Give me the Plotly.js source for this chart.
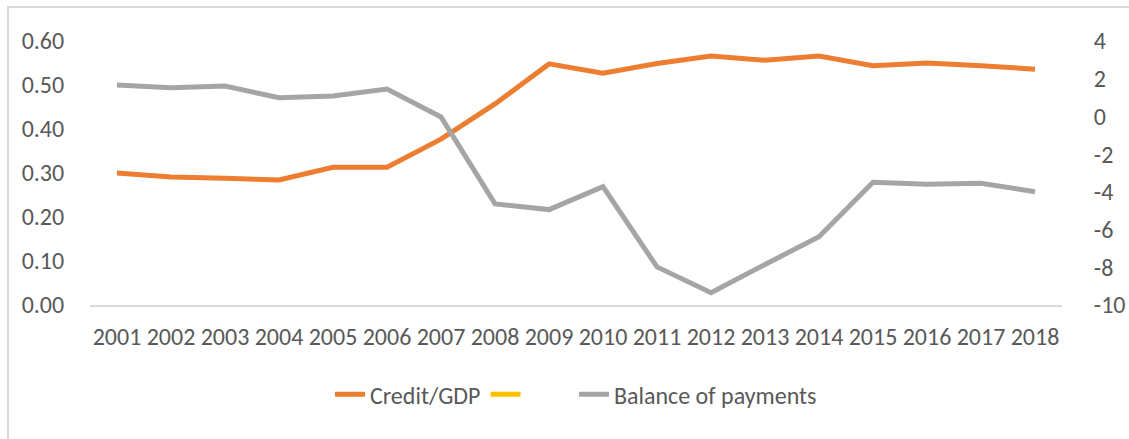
<!DOCTYPE html>
<html>
<head>
<meta charset="utf-8">
<script src="https://cdn.plot.ly/plotly-3.0.1.min.js"></script>
<style>
  html, body { margin: 0; padding: 0; background: #fff; }
  #wrap { position: relative; width: 1129px; height: 439px; overflow: hidden; }
  #frame { position: absolute; left: 7px; top: 6px; width: 1140px; height: 460px;
           border-left: 2px solid #d9d9d9; border-top: 2px solid #d9d9d9; box-sizing: border-box; }
  #chart { position: absolute; left: 0; top: 0; width: 1129px; height: 439px; }
</style>
</head>
<body>
<div id="wrap">
  <div id="frame"></div>
  <div id="chart"></div>
</div>
<script>
const years = ['2001','2002','2003','2004','2005','2006','2007','2008','2009','2010','2011','2012','2013','2014','2015','2016','2017','2018'];
const creditGDP = [0.300,0.291,0.288,0.284,0.313,0.313,0.377,0.457,0.548,0.527,0.549,0.566,0.556,0.566,0.544,0.550,0.544,0.536];
const balanceOfPayments = [1.67,1.52,1.61,0.99,1.08,1.45,-0.03,-4.64,-4.94,-3.72,-7.98,-9.35,-7.85,-6.38,-3.49,-3.60,-3.55,-3.99];
const emptySeries = years.map(() => null);
const leftTicks = [0,0.1,0.2,0.3,0.4,0.5,0.6];
const rightTicks = [-10,-8,-6,-4,-2,0,2,4];

const FONT = "Carlito, Calibri, 'Open Sans', sans-serif";
const TXT = '#595959';
const FS = 24;
const CLEAR = 'rgba(0,0,0,0)';
const BLANK_NAME = '\u00a0'.repeat(8);

const traces = [
  { x: years, y: creditGDP, name: 'Credit/GDP', type: 'scatter', mode: 'lines',
    line: { color: '#ED7D31', width: 5 }, yaxis: 'y' },
  { x: years, y: emptySeries, name: BLANK_NAME, type: 'scatter', mode: 'lines',
    line: { color: '#FFC000', width: 5 }, yaxis: 'y' },
  { x: years, y: balanceOfPayments, name: 'Balance of payments', type: 'scatter', mode: 'lines',
    line: { color: '#A5A5A5', width: 5 }, yaxis: 'y2' }
];

const layout = {
  width: 1129, height: 439,
  margin: { l: 90, r: 67, t: 41, b: 134 },
  paper_bgcolor: CLEAR, plot_bgcolor: CLEAR,
  font: { family: FONT, size: FS, color: TXT },
  showlegend: true,
  legend: { orientation: 'h', x: 0.5, xanchor: 'center', y: -0.34, yanchor: 'middle',
            font: { family: FONT, size: FS, color: TXT } },
  xaxis: { type: 'category', range: [-0.5, 17.5], showgrid: false, zeroline: false, showline: true,
           linecolor: '#d9d9d9', linewidth: 2, ticks: 'outside', ticklen: 9, tickcolor: CLEAR,
           tickfont: { family: FONT, size: FS, color: TXT } },
  yaxis: { range: [0, 0.6], tickvals: leftTicks, ticktext: leftTicks.map(v => v.toFixed(2)),
           showgrid: false, zeroline: false, showline: false,
           ticks: 'outside', ticklen: 20, tickcolor: CLEAR,
           tickfont: { family: FONT, size: FS, color: TXT } },
  yaxis2: { range: [-10, 4], tickvals: rightTicks, ticktext: rightTicks.map(String),
            overlaying: 'y', side: 'right', showgrid: false, zeroline: false, showline: false,
            ticks: 'outside', ticklen: 26, tickcolor: CLEAR,
            tickfont: { family: FONT, size: FS, color: TXT } }
};

Plotly.newPlot('chart', traces, layout, { displayModeBar: false, staticPlot: true });
</script>
</body>
</html>
